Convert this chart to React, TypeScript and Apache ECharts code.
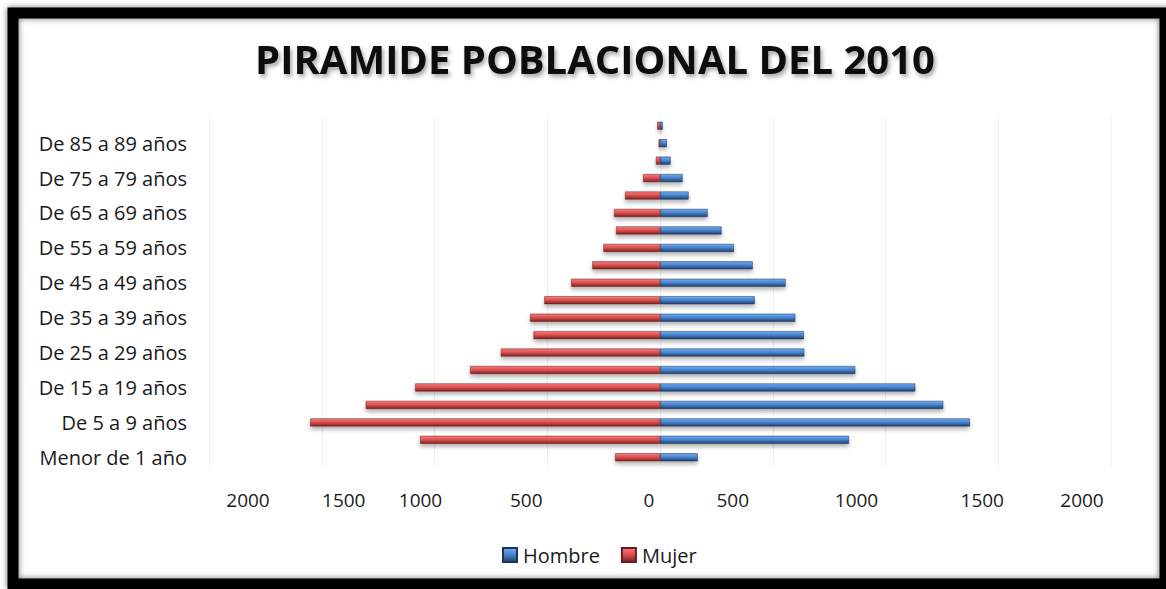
import React, { useEffect, useRef } from "react";
import * as echarts from "echarts";

const categories = [
  "Menor de 1 año", "De 1 a 4 años", "De 5 a 9 años", "De 10 a 14 años", "De 15 a 19 años",
  "De 20 a 24 años", "De 25 a 29 años", "De 30 a 34 años", "De 35 a 39 años", "De 40 a 44 años",
  "De 45 a 49 años", "De 50 a 54 años", "De 55 a 59 años", "De 60 a 64 años", "De 65 a 69 años",
  "De 70 a 74 años", "De 75 a 79 años", "De 80 a 84 años", "De 85 a 89 años", "De 90 a más años",
];

const hombre = [167, 838, 1374, 1256, 1132, 866, 640, 638, 600, 420, 557, 411, 328, 273, 211, 127, 100, 47, 30, 12];
const mujer = [199, 1064, 1551, 1305, 1086, 842, 706, 561, 576, 513, 394, 300, 251, 195, 204, 155, 75, 18, 6, 12];

const xTicks = [-2000, -1500, -1000, -500, 0, 500, 1000, 1500, 2000];
// horizontal offset (px) of each tick label from its tick, as in the reference
const labelShift = [39, 22, -14, -21, -11, -40, -29, -16, -29];

const FONT = "'Open Sans', 'Noto Sans', sans-serif";

export default function App() {
  const ref = useRef<HTMLDivElement>(null);

  useEffect(() => {
    if (!ref.current) return;
    const chart = echarts.init(ref.current, null, { renderer: "svg" });

    const rich: Record<string, any> = {};
    xTicks.forEach((v, i) => {
      const s = labelShift[i];
      rich["t" + i] = {
        fontSize: 19,
        fontFamily: FONT,
        color: "#1a1a1a",
        padding: s >= 0 ? [0, 0, 0, 2 * s] : [0, -2 * s, 0, 0],
      };
    });

    const redGrad = new echarts.graphic.LinearGradient(0, 0, 0, 1, [
      { offset: 0, color: "#f77b7b" },
      { offset: 0.45, color: "#e05252" },
      { offset: 1, color: "#7a2323" },
    ]);
    const blueGrad = new echarts.graphic.LinearGradient(0, 0, 0, 1, [
      { offset: 0, color: "#6eaaf0" },
      { offset: 0.45, color: "#4a87d6" },
      { offset: 1, color: "#22406b" },
    ]);

    chart.setOption({
      animation: false,
      backgroundColor: "#ffffff",
      title: {
        text: "PIRAMIDE POBLACIONAL DEL 2010",
        left: 590,
        textAlign: "center",
        top: 33,
        textStyle: {
          fontFamily: FONT,
          fontWeight: "bold",
          fontSize: 40,
          color: "#0d0d0d",
          textShadowColor: "rgba(0,0,0,0.35)",
          textShadowBlur: 4,
          textShadowOffsetX: 2,
          textShadowOffsetY: 3,
        },
      },
      legend: {
        data: ["Hombre", "Mujer"],
        left: 497,
        top: 540,
        icon: "rect",
        itemWidth: 14,
        itemHeight: 14,
        itemGap: 21,
        textStyle: { fontFamily: FONT, fontSize: 20, color: "#1a1a1a", padding: [0, 0, 0, 1] },
      },
      grid: { left: 209, right: 55, top: 117, bottom: 123, containLabel: false },
      xAxis: {
        type: "value",
        min: -2000,
        max: 2000,
        interval: 500,
        axisLine: { show: false },
        axisTick: { show: false },
        splitLine: { show: true, lineStyle: { color: "#efefef", width: 1 } },
        axisLabel: {
          margin: 24,
          formatter: (v: number) => {
            const i = xTicks.indexOf(v);
            return `{t${i}|${Math.abs(v)}}`;
          },
          rich,
        },
      },
      yAxis: {
        type: "category",
        data: categories,
        axisLine: { show: false, onZero: false },
        axisTick: { show: false },
        axisLabel: {
          interval: 1,
          margin: 22,
          fontFamily: FONT,
          fontSize: 20,
          color: "#1a1a1a",
        },
      },
      series: [
        {
          name: "Hombre",
          type: "bar",
          data: hombre,
          barWidth: 8,
          barGap: "-100%",
          itemStyle: {
            color: blueGrad,
            borderColor: "#1d3557",
            borderWidth: 0.5,
            shadowColor: "rgba(0,0,0,0.3)",
            shadowBlur: 4,
            shadowOffsetY: 3,
          },
        },
        {
          name: "Mujer",
          type: "bar",
          data: mujer.map((v) => -v),
          barWidth: 8,
          barGap: "-100%",
          itemStyle: {
            color: redGrad,
            borderColor: "#6a1c1c",
            borderWidth: 0.5,
            shadowColor: "rgba(0,0,0,0.3)",
            shadowBlur: 4,
            shadowOffsetY: 3,
          },
        },
      ],
      graphic: [
        {
          type: "rect",
          silent: true,
          z: 100,
          shape: { x: 13, y: 13, width: 1152, height: 571 },
          style: {
            fill: "none",
            stroke: "#050505",
            lineWidth: 11,
            shadowColor: "rgba(0,0,0,0.55)",
            shadowBlur: 6,
          },
        },
      ],
    });

    return () => chart.dispose();
  }, []);

  return (
    <div
      ref={ref}
      style={{ position: "absolute", left: 0, top: 0, width: 1166, height: 589, background: "#fff" }}
    />
  );
}
